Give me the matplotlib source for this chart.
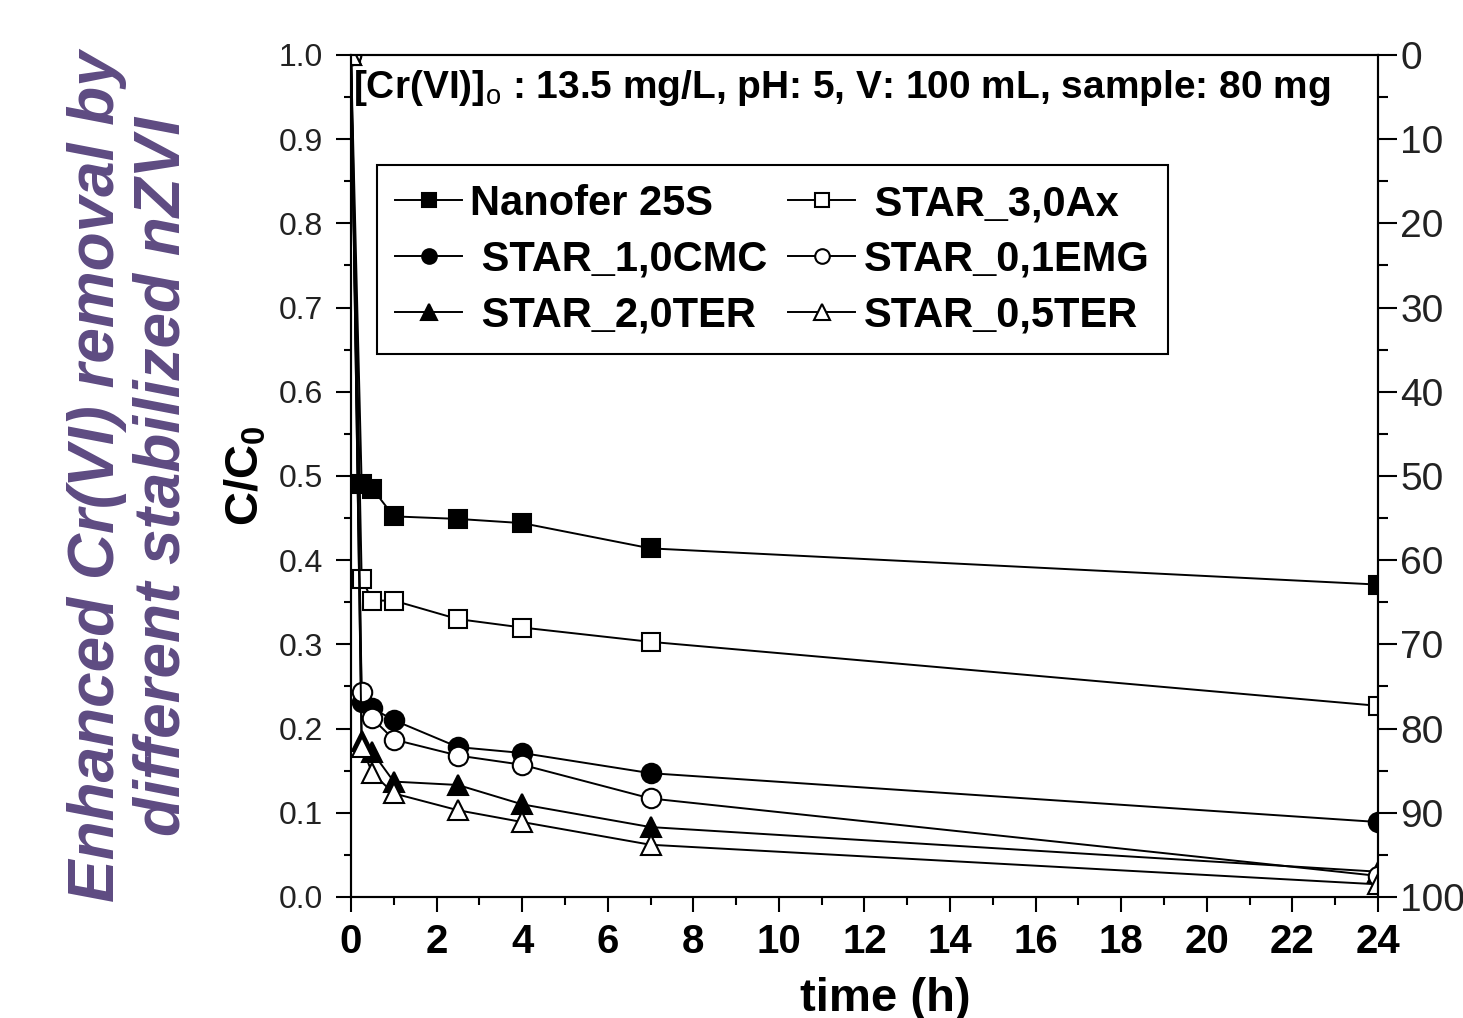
"""
Cr(VI) removal by stabilized nZVI - C/C0 vs time
"""

import matplotlib
matplotlib.use('Agg')
import matplotlib.pyplot as plt
from matplotlib.ticker import MultipleLocator

plt.rcParams['font.family'] = ['Liberation Sans', 'DejaVu Sans']
plt.rcParams['mathtext.fontset'] = 'custom'
plt.rcParams['mathtext.rm'] = 'Liberation Sans'
plt.rcParams['mathtext.bf'] = 'Liberation Sans:bold'

# sampling times (h)
time_h = [0, 0.25, 0.5, 1, 2.5, 4, 7, 24]

# C/C0
nanofer = [1.0, 0.490, 0.485, 0.452, 0.449, 0.444, 0.414, 0.371]
cmc_1_0 = [1.0, 0.232, 0.224, 0.210, 0.178, 0.171, 0.147, 0.089]
ter_2_0 = [1.0, 0.185, 0.172, 0.137, 0.133, 0.110, 0.083, 0.030]
ax_3_0 = [1.0, 0.378, 0.352, 0.352, 0.330, 0.320, 0.303, 0.227]
emg_0_1 = [1.0, 0.243, 0.212, 0.187, 0.168, 0.157, 0.117, 0.025]
ter_0_5 = [1.0, 0.178, 0.147, 0.123, 0.103, 0.089, 0.062, 0.015]

labels = ['Nanofer 25S', ' STAR_1,0CMC', ' STAR_2,0TER',
          ' STAR_3,0Ax', 'STAR_0,1EMG', 'STAR_0,5TER']

fig = plt.figure(figsize=(14.63, 10.18), dpi=100)
ax = fig.add_axes([0.2399, 0.1189, 0.7020, 0.8271])

series = [
    (nanofer, 's', 'black', 13),
    (cmc_1_0, 'o', 'black', 14),
    (ter_2_0, '^', 'black', 15),
    (ax_3_0, 's', 'white', 13),
    (emg_0_1, 'o', 'white', 14),
    (ter_0_5, '^', 'white', 15),
]
for (vals, mk, fc, ms), lab in zip(series, labels):
    ax.plot(time_h, vals, color='black', lw=1.4, marker=mk, markersize=ms,
            markerfacecolor=fc, markeredgecolor='black', markeredgewidth=1.5,
            label=lab)

ax.set_xlim(0, 24)
ax.set_ylim(0, 1.0)
ax.xaxis.set_major_locator(MultipleLocator(2))
ax.xaxis.set_minor_locator(MultipleLocator(1))
ax.yaxis.set_major_locator(MultipleLocator(0.1))
ax.yaxis.set_minor_locator(MultipleLocator(0.05))
ax.yaxis.set_major_formatter(plt.FuncFormatter(lambda v, p: '%.1f' % v))
ax.tick_params(axis='x', which='major', direction='out', length=11, width=1.5,
               labelsize=29, pad=8)
ax.tick_params(axis='x', which='minor', direction='out', length=6, width=1.5)
ax.tick_params(axis='y', which='major', direction='out', length=11, width=1.5,
               labelsize=23, pad=9, labelcolor='#222222')
ax.tick_params(axis='y', which='minor', direction='out', length=5, width=1.5)
for lbl in ax.get_xticklabels():
    lbl.set_fontweight('bold')
for sp in ax.spines.values():
    sp.set_linewidth(1.5)

ax.set_xlabel('time (h)', fontsize=34, fontweight='bold')
ax.xaxis.set_label_coords(0.52, -0.095)
ax.set_ylabel(r'C/C$_\mathbf{0}$', fontsize=34, fontweight='bold')
ax.yaxis.set_label_coords(-0.08, 0.5)

# right axis: removal %
ax2 = ax.twinx()
ax2.set_ylim(100, 0)
ax2.yaxis.set_major_locator(MultipleLocator(10))
ax2.yaxis.set_minor_locator(MultipleLocator(5))
ax2.tick_params(axis='y', which='major', direction='out', length=14, width=1.5,
                labelsize=28, pad=2, labelcolor='#222222')
ax2.tick_params(axis='y', which='minor', direction='out', length=7, width=1.5)
for sp in ax2.spines.values():
    sp.set_linewidth(1.5)

ax.text(0.002, 0.961, r'[Cr(VI)]$_\mathrm{o}$ : 13.5 mg/L, pH: 5, V: 100 mL, sample: 80 mg',
        transform=ax.transAxes, fontsize=28, fontweight='bold', va='center', ha='left')

leg = ax.legend(loc='upper left', bbox_to_anchor=(0.025, 0.869), borderaxespad=0,
                ncol=2, prop={'weight': 'bold', 'size': 30},
                handlelength=1.6, handletextpad=0.2, columnspacing=0.5,
                labelspacing=0.38, borderpad=0.45, markerscale=0.75,
                fancybox=False, framealpha=1, edgecolor='black')
leg.get_frame().set_linewidth(1.5)

# slide title on the left
fig.text(0.0885, 0.532, 'Enhanced Cr(VI) removal by\ndifferent stabilized nZVI',
         rotation=90, ha='center', va='center', multialignment='center',
         fontsize=46, style='italic', fontweight='bold', color='#5E4B82',
         family=['Liberation Sans Narrow', 'Liberation Sans'], linespacing=1.12)

fig.savefig('out.png', dpi=100)
